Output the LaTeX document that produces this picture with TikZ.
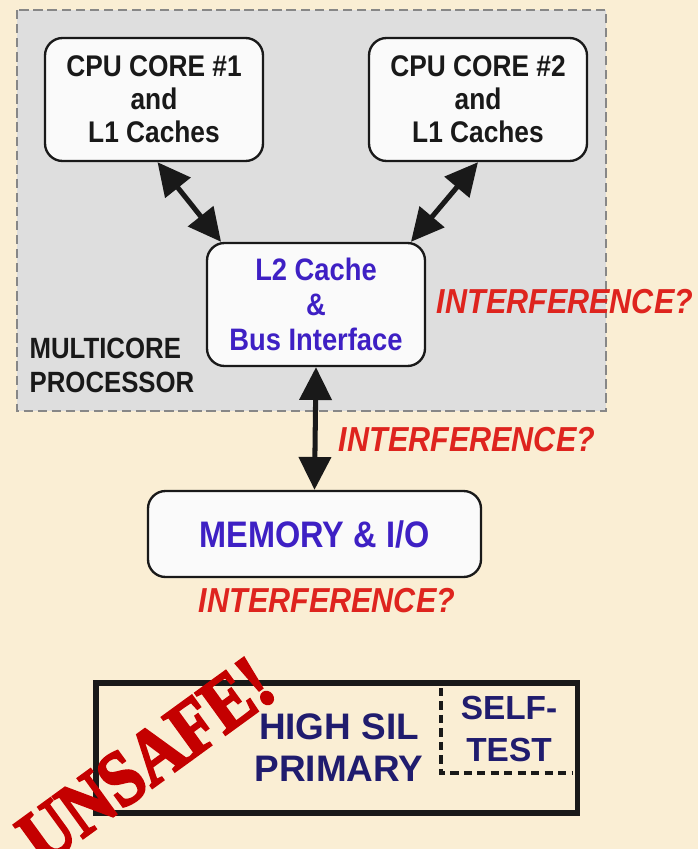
\documentclass[tikz,border=0pt]{standalone}
\usepackage{fontspec}
\setmainfont{Liberation Sans}
\newfontfamily\etroite[FakeStretch=0.88]{Liberation Sans}
\newfontfamily\tampon[FakeStretch=0.86,FakeBold=3]{Liberation Serif Bold}
\usetikzlibrary{arrows.meta}

\definecolor{parchemin}{RGB}{250,238,212}
\definecolor{gris}{RGB}{222,222,222}
\definecolor{grisbord}{RGB}{135,135,135}
\definecolor{blanc}{RGB}{250,250,250}
\definecolor{noir}{RGB}{25,25,25}
\definecolor{violet}{RGB}{62,32,196}
\definecolor{rouge}{RGB}{222,36,30}
\definecolor{marine}{RGB}{32,28,110}
\definecolor{carmin}{RGB}{196,0,0}

\begin{document}
\begin{tikzpicture}[x=0.03cm,y=-0.03cm]
\tikzset{boite/.style={draw=noir, line width=2pt, rounded corners=15pt, fill=blanc, align=center, inner sep=0pt,
  minimum width=6.54cm, minimum height=3.69cm, font=\etroite\bfseries\fontsize{25.5}{28}\selectfont}}
\tikzset{fleche/.style={{Triangle[length=28pt,width=27pt]}-{Triangle[length=28pt,width=27pt]}, line width=4.3pt, draw=noir}}
\tikzset{alerte/.style={font=\etroite\bfseries\itshape\fontsize{29.6}{30}\selectfont, text=rouge, inner sep=0pt}}
\useasboundingbox (0,0) rectangle (698,849);
\fill[parchemin] (0,0) rectangle (698,849);
\filldraw[fill=gris, draw=grisbord, line width=1.2pt, dash pattern=on 8pt off 4pt] (17,10) rectangle (606,411);
\node[boite, text=noir] (C1) at (154,99.5) {CPU CORE \#1\\and\\L1 Caches};
\node[boite, text=noir] (C2) at (478,99.5) {CPU CORE \#2\\and\\L1 Caches};
\node[boite, text=violet, font=\etroite\bfseries\fontsize{26.5}{30}\selectfont] (L2) at (316,304.5) {L2 Cache\\\&\\Bus Interface};
\node[align=left, inner sep=0pt, text=noir, font=\etroite\bfseries\fontsize{25}{29}\selectfont] (MP) at (112,365.5) {MULTICORE\\PROCESSOR};
\node[boite, text=violet, minimum width=9.99cm, minimum height=2.58cm, font=\etroite\bfseries\fontsize{31.5}{30}\selectfont] (MEM) at (314.5,534) {MEMORY \& I/O};
\node[alerte] (I1) at (565,302) {INTERFERENCE?};
\node[alerte] (I2) at (467,440) {INTERFERENCE?};
\node[alerte] (I3) at (327,601) {INTERFERENCE?};
\draw[fleche] ([xshift=3pt]C1.south) -- ([xshift=13pt]L2.north west);
\draw[fleche] (C2.south) -- ([xshift=-13pt]L2.north east);
\draw[fleche] (L2.south) -- (MEM.north);
\node[draw=noir, line width=4.3pt, minimum width=14.43cm, minimum height=3.9cm, inner sep=0pt] (SIL) at (336.5,748) {};
\node[align=center, inner sep=0pt, text=marine, font=\bfseries\fontsize{31.5}{36}\selectfont] (HS) at (339,748) {HIGH SIL\\PRIMARY};
\draw[noir, line width=3.5pt, dash pattern=on 7pt off 4.5pt] (441,688) -- (441,773) -- (572,773);
\node[align=center, inner sep=0pt, text=marine, font=\bfseries\fontsize{28.5}{36}\selectfont] (ST) at (509,729) {SELF-\\TEST};
\node[rotate=36, inner sep=0pt, text=carmin, font=\tampon\fontsize{67}{67}\selectfont] (UN) at (146,761) {UNSAFE!};
\end{tikzpicture}
\end{document}
